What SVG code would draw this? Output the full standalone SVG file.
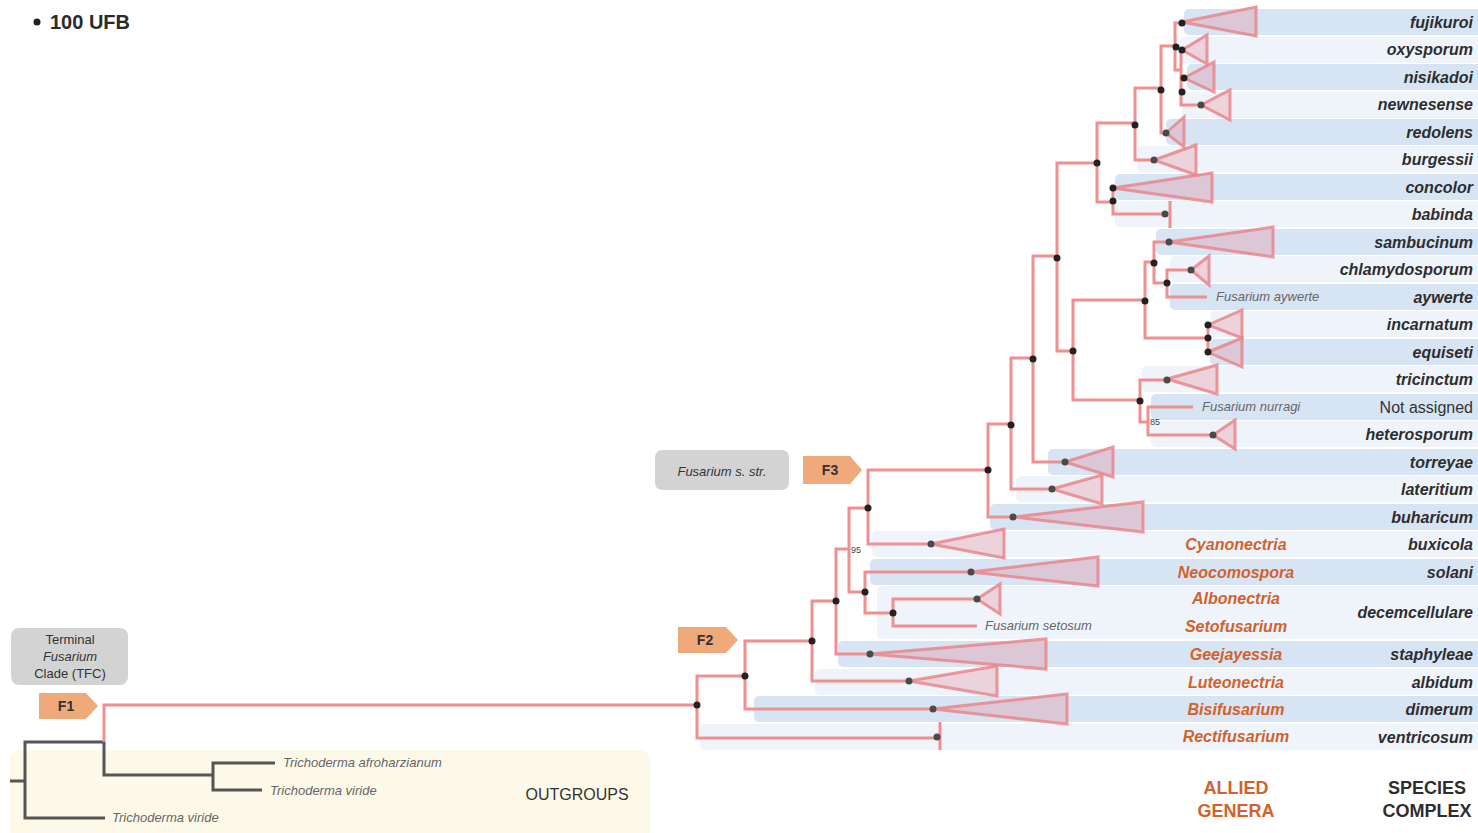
<svg xmlns="http://www.w3.org/2000/svg" width="1478" height="833" viewBox="0 0 1478 833">
<style>
.bd{fill:#d7e4f4}
.bl{fill:#eff4fb}
.br{fill:none;stroke:#ef8f8f;stroke-width:3;stroke-linejoin:miter}
.og{fill:none;stroke:#555;stroke-width:3}
.tri{fill:#e4838e;fill-opacity:0.3;stroke:#e9868c;stroke-opacity:0.85;stroke-width:3;stroke-linejoin:miter}
.dn{fill:#222}
.dt{fill:#4a4a4a}
.sc{font-family:"Liberation Sans",Arial,sans-serif;font-size:16px;font-weight:bold;font-style:italic;fill:#2e2e2e;text-anchor:end}
.ag{font-family:"Liberation Sans",Arial,sans-serif;font-size:16px;font-weight:bold;font-style:italic;fill:#d2622b;text-anchor:middle}
.sp{font-family:"Liberation Sans",Arial,sans-serif;font-size:13px;font-style:italic;fill:#666}
.hd{font-family:"Liberation Sans",Arial,sans-serif;font-size:18px;font-weight:bold;text-anchor:middle}
.tag{fill:#efa97a}
.tagt{font-family:"Liberation Sans",Arial,sans-serif;font-size:14px;font-weight:bold;fill:#333;text-anchor:middle}
.box{fill:#d3d3d3}
.bx{font-family:"Liberation Sans",Arial,sans-serif;font-size:13px;fill:#333;text-anchor:middle}
.sup{font-family:"Liberation Sans",Arial,sans-serif;font-size:9px;fill:#444}
</style>

<g id="bands">
<rect class="bd" x="1184" y="9" width="300" height="26" rx="5"/>
<rect class="bl" x="1180" y="37" width="304" height="26" rx="5"/>
<rect class="bd" x="1187" y="64" width="297" height="26" rx="5"/>
<rect class="bl" x="1182" y="92" width="302" height="26" rx="5"/>
<rect class="bd" x="1166" y="119" width="318" height="26" rx="5"/>
<rect class="bl" x="1137" y="146" width="347" height="26" rx="5"/>
<rect class="bd" x="1115" y="174" width="369" height="26" rx="5"/>
<rect class="bl" x="1115" y="201" width="369" height="26" rx="5"/>
<rect class="bd" x="1156" y="229" width="328" height="26" rx="5"/>
<rect class="bl" x="1170" y="256" width="314" height="26" rx="5"/>
<rect class="bd" x="1170" y="284" width="314" height="26" rx="5"/>
<rect class="bl" x="1210" y="311" width="274" height="26" rx="5"/>
<rect class="bd" x="1210" y="339" width="274" height="26" rx="5"/>
<rect class="bl" x="1142" y="366" width="342" height="26" rx="5"/>
<rect class="bd" x="1151" y="394" width="333" height="26" rx="5"/>
<rect class="bl" x="1151" y="421" width="333" height="26" rx="5"/>
<rect class="bd" x="1048" y="449" width="436" height="26" rx="5"/>
<rect class="bl" x="1016" y="476" width="468" height="26" rx="5"/>
<rect class="bd" x="990" y="504" width="494" height="26" rx="5"/>
<rect class="bl" x="872" y="531" width="612" height="26" rx="5"/>
<rect class="bd" x="870" y="559" width="614" height="26" rx="5"/>
<rect class="bl" x="877" y="586" width="607" height="53" rx="5"/>
<rect class="bd" x="838" y="641" width="646" height="26" rx="5"/>
<rect class="bl" x="815" y="669" width="669" height="26" rx="5"/>
<rect class="bd" x="754" y="696" width="730" height="26" rx="5"/>
<rect class="bl" x="700" y="724" width="784" height="26" rx="5"/>
</g>

<g id="outgroups">
<rect x="10" y="750" width="640" height="90" rx="10" fill="#fdf9e9"/>
<text x="577" y="800" font-family="'Liberation Sans',Arial,sans-serif" font-size="16" fill="#333" text-anchor="middle">OUTGROUPS</text>
<text class="sp" x="283" y="767">Trichoderma afroharzianum</text>
<text class="sp" x="270" y="795">Trichoderma viride</text>
<text class="sp" x="112" y="822">Trichoderma viride</text>
</g>

<g id="connectors">
<path class="og" d="M10,781 H25"/>
<path class="og" d="M104,742 H25 V818 H105"/>
<path class="og" d="M104,742 V775 H213"/>
<path class="og" d="M275,763 H213 V790 H262"/>
<path class="br" d="M104,742 V705 H697"/>
<path class="br" d="M745,676 H697 V738 H937"/>
<path class="br" d="M940,722 V750"/>
<path class="br" d="M812,641 H745 V709 H933"/>
<path class="br" d="M836,601 H812 V681 H909"/>
<path class="br" d="M849,549 H836 V654 H870"/>
<path class="br" d="M868,508 H849 V592 H865"/>
<path class="br" d="M988,470 H868 V544 H931"/>
<path class="br" d="M971,572 H865 V613 H893"/>
<path class="br" d="M977,599 H893 V626 H977"/>
<path class="br" d="M1011,424 H988 V517 H1013"/>
<path class="br" d="M1033,358 H1011 V489 H1052"/>
<path class="br" d="M1057,256 H1033 V462 H1065"/>
<path class="br" d="M1097,163 H1057 V351 H1073"/>
<path class="br" d="M1145,300 H1073 V400 H1140"/>
<path class="br" d="M1135,123 H1097 V202 H1113"/>
<path class="br" d="M1161,88 H1135 V160 H1154"/>
<path class="br" d="M1175,46 H1161 V133 H1166"/>
<path class="br" d="M1182,23 H1175 V70 H1181"/>
<path class="br" d="M1182,50 H1181 V105 H1201"/>
<path class="br" d="M1181,78 H1184"/>
<path class="br" d="M1113,188 V214 H1165"/>
<path class="br" d="M1170,201 V228"/>
<path class="br" d="M1154,262 H1145 V338 H1208"/>
<path class="br" d="M1169,242 H1154 V283 H1167"/>
<path class="br" d="M1191,270 H1167 V297 H1207"/>
<path class="br" d="M1208,325 V352"/>
<path class="br" d="M1167,380 H1140 V422 H1148"/>
<path class="br" d="M1193,407 H1148 V435 H1213"/>
</g>

<g id="clades">
<polygon class="tri" points="1182,22 1256,7 1256,36"/>
<polygon class="tri" points="1182,50 1207,35 1207,64"/>
<polygon class="tri" points="1184,78 1214,62 1214,92"/>
<polygon class="tri" points="1201,105 1230,90 1230,120"/>
<polygon class="tri" points="1166,133 1184,117 1184,147"/>
<polygon class="tri" points="1154,160 1196,145 1196,175"/>
<polygon class="tri" points="1113,188 1212,173 1212,202"/>
<polygon class="tri" points="1169,242 1273,227 1273,257"/>
<polygon class="tri" points="1191,270 1209,256 1209,285"/>
<polygon class="tri" points="1208,325 1242,310 1242,338"/>
<polygon class="tri" points="1208,352 1242,338 1242,367"/>
<polygon class="tri" points="1167,379 1217,365 1217,394"/>
<polygon class="tri" points="1213,435 1235,420 1235,449"/>
<polygon class="tri" points="1065,462 1113,447 1113,477"/>
<polygon class="tri" points="1052,489 1102,475 1102,504"/>
<polygon class="tri" points="1013,517 1143,502 1143,532"/>
<polygon class="tri" points="931,544 1004,529 1004,558"/>
<polygon class="tri" points="971,572 1098,557 1098,586"/>
<polygon class="tri" points="977,599 1000,584 1000,614"/>
<polygon class="tri" points="870,654 1046,639 1046,669"/>
<polygon class="tri" points="909,681 997,666 997,696"/>
<polygon class="tri" points="933,709 1067,694 1067,724"/>
</g>

<g id="nodes">
<circle class="dn" cx="697" cy="705" r="3.5"/>
<circle class="dn" cx="745" cy="676" r="3.5"/>
<circle class="dn" cx="812" cy="641" r="3.5"/>
<circle class="dn" cx="836" cy="601" r="3.5"/>
<circle class="dn" cx="868" cy="508" r="3.5"/>
<circle class="dn" cx="865" cy="592" r="3.5"/>
<circle class="dn" cx="893" cy="613" r="3.5"/>
<circle class="dn" cx="988" cy="470" r="3.5"/>
<circle class="dn" cx="1011" cy="425" r="3.5"/>
<circle class="dn" cx="1033" cy="359" r="3.5"/>
<circle class="dn" cx="1057" cy="258" r="3.5"/>
<circle class="dn" cx="1073" cy="351" r="3.5"/>
<circle class="dn" cx="1097" cy="163" r="3.5"/>
<circle class="dn" cx="1135" cy="125" r="3.5"/>
<circle class="dn" cx="1113" cy="188" r="3.5"/>
<circle class="dn" cx="1113" cy="201" r="3.5"/>
<circle class="dn" cx="1161" cy="90" r="3.5"/>
<circle class="dn" cx="1176" cy="47" r="3.5"/>
<circle class="dn" cx="1182" cy="23" r="3.5"/>
<circle class="dn" cx="1182" cy="50" r="3.5"/>
<circle class="dn" cx="1184" cy="78" r="3.5"/>
<circle class="dn" cx="1182" cy="92" r="3.5"/>
<circle class="dn" cx="1145" cy="301" r="3.5"/>
<circle class="dn" cx="1154" cy="263" r="3.5"/>
<circle class="dn" cx="1167" cy="283" r="3.5"/>
<circle class="dn" cx="1140" cy="401" r="3.5"/>
<circle class="dn" cx="1208" cy="325" r="3.5"/>
<circle class="dn" cx="1208" cy="338" r="3.5"/>
<circle class="dn" cx="1208" cy="352" r="3.5"/>
<circle class="dt" cx="1201" cy="105" r="3.5"/>
<circle class="dt" cx="1166" cy="133" r="3.5"/>
<circle class="dt" cx="1154" cy="160" r="3.5"/>
<circle class="dt" cx="1165" cy="214" r="3.5"/>
<circle class="dt" cx="1169" cy="242" r="3.5"/>
<circle class="dt" cx="1191" cy="270" r="3.5"/>
<circle class="dt" cx="1167" cy="380" r="3.5"/>
<circle class="dt" cx="1213" cy="435" r="3.5"/>
<circle class="dt" cx="1065" cy="462" r="3.5"/>
<circle class="dt" cx="1052" cy="489" r="3.5"/>
<circle class="dt" cx="1013" cy="517" r="3.5"/>
<circle class="dt" cx="931" cy="544" r="3.5"/>
<circle class="dt" cx="971" cy="572" r="3.5"/>
<circle class="dt" cx="977" cy="599" r="3.5"/>
<circle class="dt" cx="870" cy="654" r="3.5"/>
<circle class="dt" cx="909" cy="681" r="3.5"/>
<circle class="dt" cx="933" cy="709" r="3.5"/>
<circle class="dt" cx="937" cy="737" r="3.5"/>
<text class="sup" x="851" y="553">95</text>
<text class="sup" x="1150" y="425">85</text>
</g>

<g id="species-labels">
<text class="sc" x="1473" y="28">fujikuroi</text>
<text class="sc" x="1473" y="55">oxysporum</text>
<text class="sc" x="1473" y="83">nisikadoi</text>
<text class="sc" x="1473" y="110">newnesense</text>
<text class="sc" x="1473" y="138">redolens</text>
<text class="sc" x="1473" y="165">burgessii</text>
<text class="sc" x="1473" y="193">concolor</text>
<text class="sc" x="1473" y="220">babinda</text>
<text class="sc" x="1473" y="248">sambucinum</text>
<text class="sc" x="1473" y="275">chlamydosporum</text>
<text class="sc" x="1473" y="303">aywerte</text>
<text class="sc" x="1473" y="330">incarnatum</text>
<text class="sc" x="1473" y="358">equiseti</text>
<text class="sc" x="1473" y="385">tricinctum</text>
<text x="1473" y="413" font-family="'Liberation Sans',Arial,sans-serif" font-size="16" fill="#333" text-anchor="end">Not assigned</text>
<text class="sc" x="1473" y="440">heterosporum</text>
<text class="sc" x="1473" y="468">torreyae</text>
<text class="sc" x="1473" y="495">lateritium</text>
<text class="sc" x="1473" y="523">buharicum</text>
<text class="sc" x="1473" y="550">buxicola</text>
<text class="sc" x="1473" y="578">solani</text>
<text class="sc" x="1473" y="618">decemcellulare</text>
<text class="sc" x="1473" y="660">staphyleae</text>
<text class="sc" x="1473" y="688">albidum</text>
<text class="sc" x="1473" y="715">dimerum</text>
<text class="sc" x="1473" y="743">ventricosum</text>
<text class="sp" x="1216" y="301">Fusarium aywerte</text>
<text class="sp" x="1202" y="411">Fusarium nurragi</text>
<text class="sp" x="985" y="630">Fusarium setosum</text>
</g>

<g id="genera-labels">
<text class="ag" x="1236" y="550">Cyanonectria</text>
<text class="ag" x="1236" y="578">Neocomospora</text>
<text class="ag" x="1236" y="604">Albonectria</text>
<text class="ag" x="1236" y="632">Setofusarium</text>
<text class="ag" x="1236" y="660">Geejayessia</text>
<text class="ag" x="1236" y="688">Luteonectria</text>
<text class="ag" x="1236" y="715">Bisifusarium</text>
<text class="ag" x="1236" y="742">Rectifusarium</text>
</g>

<g id="headers">
<text class="hd" x="1236" y="794" fill="#d2622b">ALLIED</text>
<text class="hd" x="1236" y="817" fill="#d2622b">GENERA</text>
<text class="hd" x="1427" y="794" fill="#2e2e2e">SPECIES</text>
<text class="hd" x="1427" y="817" fill="#2e2e2e">COMPLEX</text>
</g>

<g id="legend">
<circle cx="37" cy="22" r="3.5" fill="#222"/>
<text x="50" y="29" font-family="'Liberation Sans',Arial,sans-serif" font-size="20" font-weight="bold" fill="#2a2a2a">100 UFB</text>
</g>

<g id="tfc-label">
<rect class="box" x="11" y="628" width="117" height="57" rx="8"/>
<text class="bx" x="70" y="644">Terminal</text>
<text class="bx" x="70" y="661" font-style="italic">Fusarium</text>
<text class="bx" x="70" y="678">Clade (TFC)</text>
</g>

<g id="sstr-label">
<rect class="box" x="655" y="450" width="134" height="40" rx="7"/>
<text class="bx" x="722" y="476" font-size="14" font-style="italic">Fusarium s. str.</text>
</g>

<g id="F1">
<polygon class="tag" points="39,693 86,693 98,706 86,719 39,719"/>
<text class="tagt" x="66" y="711">F1</text>
</g>
<g id="F2">
<polygon class="tag" points="678,627 726,627 738,640 726,653 678,653"/>
<text class="tagt" x="705" y="645">F2</text>
</g>
<g id="F3">
<polygon class="tag" points="803,456 850,456 862,470 850,484 803,484"/>
<text class="tagt" x="830" y="475">F3</text>
</g>
</svg>
